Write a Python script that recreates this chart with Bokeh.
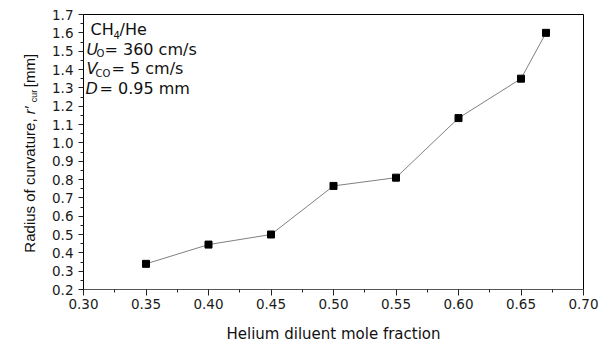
import math

from bokeh.embed import file_html
from bokeh.layouts import row
from bokeh.models import FixedTicker, Label, PrintfTickFormatter, Range1d
from bokeh.plotting import figure
from bokeh.resources import INLINE

# Measured radius of curvature versus helium diluent mole fraction
mole_fraction = [0.35, 0.40, 0.45, 0.50, 0.55, 0.60, 0.65, 0.67]
radius_mm = [0.34, 0.445, 0.50, 0.765, 0.81, 1.135, 1.35, 1.60]

x_ticks = [0.30, 0.35, 0.40, 0.45, 0.50, 0.55, 0.60, 0.65, 0.70]
x_minor = [0.325, 0.375, 0.425, 0.475, 0.525, 0.575, 0.625, 0.675]
y_ticks = [0.2, 0.3, 0.4, 0.5, 0.6, 0.7, 0.8, 0.9, 1.0, 1.1, 1.2, 1.3, 1.4, 1.5, 1.6, 1.7]
y_minor = [0.25, 0.35, 0.45, 0.55, 0.65, 0.75, 0.85, 0.95, 1.05, 1.15,
           1.25, 1.35, 1.45, 1.55, 1.65]

X_MIN, X_MAX = 0.30, 0.70
Y_MIN, Y_MAX = 0.2, 1.7

W, H = 604, 345
STRIP = 44                     # narrow strip holding the vertical axis title
LEFT, RIGHT, TOP, BOTTOM = 83, 21, 14, 55
FRAME_W = W - LEFT - RIGHT
FRAME_H = H - TOP - BOTTOM

FONT = "DejaVu Sans"
LABEL_FONT = "Liberation Sans"

p = figure(
    width=W - STRIP, height=H,
    x_range=Range1d(X_MIN, X_MAX), y_range=Range1d(Y_MIN, Y_MAX),
    output_backend="svg", toolbar_location=None,
    min_border_left=LEFT - STRIP, min_border_right=RIGHT,
    min_border_top=TOP, min_border_bottom=BOTTOM,
    background_fill_color="white", border_fill_color="white",
)
p.grid.visible = False
p.outline_line_color = "black"
p.outline_line_width = 1

# x axis
xa = p.xaxis[0]
xa.ticker = FixedTicker(ticks=x_ticks, minor_ticks=x_minor)
xa.formatter = PrintfTickFormatter(format="%.2f")
xa.axis_line_color = "#555555"
xa.major_tick_in = 0
xa.major_tick_out = 6
xa.minor_tick_in = 0
xa.minor_tick_out = 3
xa.major_tick_line_color = "#222222"
xa.minor_tick_line_color = "#222222"
xa.major_label_text_font = FONT
xa.major_label_text_font_size = "13.5px"
xa.major_label_text_color = "#1a1a1a"
xa.major_label_standoff = 3
xa.axis_label = "Helium diluent mole fraction"
xa.axis_label_text_font = FONT
xa.axis_label_text_font_size = "15px"
xa.axis_label_text_font_style = "normal"
xa.axis_label_text_color = "#111111"
xa.axis_label_standoff = 13

# y axis
ya = p.yaxis[0]
ya.ticker = FixedTicker(ticks=y_ticks, minor_ticks=y_minor)
ya.formatter = PrintfTickFormatter(format="%.1f")
ya.axis_line_color = "black"
ya.major_tick_in = 0
ya.major_tick_out = 5
ya.minor_tick_in = 0
ya.minor_tick_out = 3
ya.major_tick_line_color = "#222222"
ya.minor_tick_line_color = "#222222"
ya.major_label_text_font = FONT
ya.major_label_text_font_size = "13.5px"
ya.major_label_text_color = "#1a1a1a"
ya.major_label_standoff = 5

# data
p.line(mole_fraction, radius_mm, line_color="#808080", line_width=1)
p.scatter(mole_fraction, radius_mm, marker="square", size=7,
          fill_color="black", line_color="black")


def dx(px):
    return X_MIN + (px - LEFT) * (X_MAX - X_MIN) / FRAME_W


def dy(py):
    return Y_MIN + (TOP + FRAME_H - py) * (Y_MAX - Y_MIN) / FRAME_H


def put(text, px, py, size, style="normal", font=FONT):
    p.add_layout(Label(
        x=dx(px), y=dy(py), x_units="data", y_units="data",
        text=text, text_font=font, text_font_size=f"{size}px",
        text_font_style=style, text_color="#111111",
        text_align="left", text_baseline="alphabetic",
    ))


# Conditions box in the upper-left corner
put("CH", 90, 29.5, 16)
put("4", 113, 34.5, 10)
put("/He", 119, 29.5, 16)

put("U", 86, 49, 16, "italic")
put("O", 96, 53.5, 10)
put("= 360 cm/s", 104, 49, 16)

put("V", 86, 68.5, 16, "italic")
put("CO", 95, 73, 10)
put("= 5 cm/s", 111, 68.5, 16)

put("D", 85, 88, 16, "italic")
put("= 0.95 mm", 99, 88, 16)

# Strip to the left of the plot.  The row aligns its frame with the main
# frame (rows TOP..TOP+FRAME_H), so the y range is set to those pixel rows,
# growing downward, and the rotated title pieces are placed in pixels.
strip = figure(
    width=STRIP, height=H,
    x_range=Range1d(0, STRIP), y_range=Range1d(TOP + FRAME_H, TOP),
    output_backend="svg", toolbar_location=None,
    min_border=0, min_border_left=0, min_border_right=0,
    min_border_top=TOP, min_border_bottom=BOTTOM,
    background_fill_color="white", border_fill_color="white",
)
strip.axis.visible = False
strip.grid.visible = False
strip.outline_line_color = None


def put_title(text, px, py, size, style="normal"):
    strip.add_layout(Label(
        x=px, y=py, x_units="data", y_units="data",
        text=text, text_font=LABEL_FONT, text_font_size=f"{size}px",
        text_font_style=style, text_color="#111111",
        text_align="left", text_baseline="alphabetic", angle=math.pi / 2,
    ))


put_title("Radius of curvature,", 28.5, 253, 15)
put_title("r\u2032", 28.5, 114, 15, "italic")
put_title("cur", 33.5, 102, 9)
put_title("[mm]", 28.5, 87, 15)

layout = row(strip, p, spacing=0)

open("out.html", "w").write(file_html(layout, INLINE))
